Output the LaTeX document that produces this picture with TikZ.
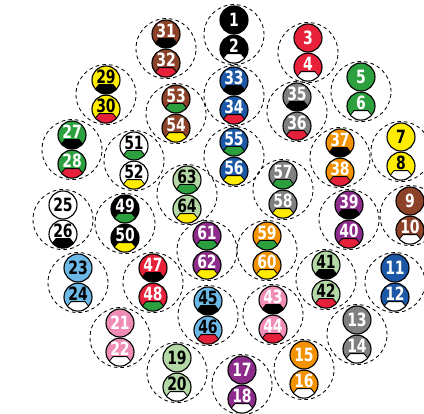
\documentclass[tikz,border=0pt]{standalone}
\usepackage{fontspec}
\usepackage{tikz}
\usetikzlibrary{calc,positioning,backgrounds}
\newfontfamily\numfont[FakeStretch=0.85]{DejaVu Sans Condensed}
\definecolor{cblack}{RGB}{0,0,0}
\definecolor{cred}{RGB}{232,33,58}
\definecolor{cgreen}{RGB}{44,160,62}
\definecolor{cyellow}{RGB}{255,236,0}
\definecolor{cbrown}{RGB}{139,66,40}
\definecolor{cblue}{RGB}{28,88,166}
\definecolor{cgrey}{RGB}{128,128,128}
\definecolor{corange}{RGB}{243,146,0}
\definecolor{cpurple}{RGB}{142,44,140}
\definecolor{clgreen}{RGB}{181,217,166}
\definecolor{cpink}{RGB}{239,141,183}
\definecolor{clblue}{RGB}{108,184,230}
\definecolor{cwhite}{RGB}{255,255,255}

\begin{document}
\begin{tikzpicture}[x=0.025cm, y=-0.025cm, node distance=0pt,
  ball/.style={draw, circle, line width=0.8pt, fill=#1, minimum size=0.7cm, inner sep=0pt,
    font=\numfont\bfseries\fontsize{13}{13}\selectfont},
  cap/.style={text height=7.5pt, text depth=2.5pt, path picture={\draw[fill=#1, line width=0.6pt]
    ([shift={(-7,4.5)}]path picture bounding box.center) -- ++(14,0) -- ++(8,10)
    -- ++(0,8) -- ++(-30,0) -- ++(0,-8) -- cycle;}},
  ring/.style={draw, circle, dash pattern=on 2.6pt off 2.2pt, line width=0.6pt, minimum size=1.5cm}]
  \useasboundingbox (0,0) rectangle (424,414);

  % Outer ring
  \node[ball=cblack, text=white] (b1) at (234,20) {1};
  \node[ball=cblack, text=white, cap=white, below=of b1] (b2) {2};
  \node[ball=cred, text=white] (b3) at (308,38) {3};
  \node[ball=cred, text=white, cap=white, below=of b3] (b4) {4};
  \node[ball=cgreen, text=white] (b5) at (361,77) {5};
  \node[ball=cgreen, text=white, cap=white, below=of b5] (b6) {6};
  \node[ball=cyellow] (b7) at (401,137) {7};
  \node[ball=cyellow, cap=white, below=of b7] (b8) {8};
  \node[ball=cbrown, text=white] (b9) at (410,201) {9};
  \node[ball=cbrown, text=white, cap=white, below=of b9] (b10) {10};
  \node[ball=cblue, text=white] (b11) at (395,268) {11};
  \node[ball=cblue, text=white, cap=white, below=of b11] (b12) {12};
  \node[ball=cgrey, text=white] (b13) at (357,320) {13};
  \node[ball=cgrey, text=white, cap=white, below=of b13] (b14) {14};
  \node[ball=corange, text=white] (b15) at (304,355) {15};
  \node[ball=corange, text=white, cap=white, below=of b15] (b16) {16};
  \node[ball=cpurple, text=white] (b17) at (242,370) {17};
  \node[ball=cpurple, text=white, cap=white, below=of b17] (b18) {18};
  \node[ball=clgreen] (b19) at (177,358) {19};
  \node[ball=clgreen, cap=white, below=of b19] (b20) {20};
  \node[ball=cpink, text=white] (b21) at (120,323) {21};
  \node[ball=cpink, text=white, cap=white, below=of b21] (b22) {22};
  \node[ball=clblue] (b23) at (78,268) {23};
  \node[ball=clblue, cap=white, below=of b23] (b24) {24};
  \node[ball=cwhite] (b25) at (63,205) {25};
  \node[ball=cwhite, cap=black, below=of b25] (b26) {26};
  \node[ball=cgreen, text=white, cap=black] (b27) at (72,135) {27};
  \node[ball=cgreen, text=white, cap=cred, below=of b27] (b28) {28};
  \node[ball=cyellow, cap=black] (b29) at (106,80) {29};
  \node[ball=cyellow, cap=cred, below=of b29] (b30) {30};
  \node[ball=cbrown, text=white, cap=black] (b31) at (166,34) {31};
  \node[ball=cbrown, text=white, cap=cred, below=of b31] (b32) {32};

  % Middle ring
  \node[ball=cblue, text=white, cap=black] (b33) at (234,81) {33};
  \node[ball=cblue, text=white, cap=cred, below=of b33] (b34) {34};
  \node[ball=cgrey, text=white, cap=black] (b35) at (297,97) {35};
  \node[ball=cgrey, text=white, cap=cred, below=of b35] (b36) {36};
  \node[ball=corange, text=white, cap=black] (b37) at (340,143) {37};
  \node[ball=corange, text=white, cap=cred, below=of b37] (b38) {38};
  \node[ball=cpurple, text=white, cap=black] (b39) at (349,205) {39};
  \node[ball=cpurple, text=white, cap=cred, below=of b39] (b40) {40};
  \node[ball=clgreen, cap=black] (b41) at (326,265) {41};
  \node[ball=clgreen, cap=cred, below=of b41] (b42) {42};
  \node[ball=cpink, text=white, cap=black] (b43) at (273,300) {43};
  \node[ball=cpink, text=white, cap=cred, below=of b43] (b44) {44};
  \node[ball=clblue, cap=black] (b45) at (208,301) {45};
  \node[ball=clblue, cap=cred, below=of b45] (b46) {46};
  \node[ball=cred, text=white, cap=black] (b47) at (153,268) {47};
  \node[ball=cred, text=white, cap=cgreen, below=of b47] (b48) {48};
  \node[ball=cblack, text=white, cap=cgreen] (b49) at (125,209) {49};
  \node[ball=cblack, text=white, cap=cyellow, below=of b49] (b50) {50};
  \node[ball=cwhite, cap=cgreen] (b51) at (134,146) {51};
  \node[ball=cwhite, cap=cyellow, below=of b51] (b52) {52};
  \node[ball=cbrown, text=white, cap=cgreen] (b53) at (176,99) {53};
  \node[ball=cbrown, text=white, cap=cyellow, below=of b53] (b54) {54};

  % Inner ring
  \node[ball=cblue, text=white, cap=cgreen] (b55) at (234,142) {55};
  \node[ball=cblue, text=white, cap=cyellow, below=of b55] (b56) {56};
  \node[ball=cgrey, text=white, cap=cgreen] (b57) at (283,175) {57};
  \node[ball=cgrey, text=white, cap=cyellow, below=of b57] (b58) {58};
  \node[ball=corange, text=white, cap=cgreen] (b59) at (267,236) {59};
  \node[ball=corange, text=white, cap=cyellow, below=of b59] (b60) {60};
  \node[ball=cpurple, text=white, cap=cgreen] (b61) at (207,236) {61};
  \node[ball=cpurple, text=white, cap=cyellow, below=of b61] (b62) {62};
  \node[ball=clgreen, cap=cgreen] (b63) at (187,180) {63};
  \node[ball=clgreen, cap=cyellow, below=of b63] (b64) {64};

  % Dashed rings round each pair
  \begin{scope}[on background layer]
    \foreach \n [evaluate=\n as \m using int(\n+1)] in {1,3,...,63}
      \node[ring] (r\n) at ($(b\n)!0.5!(b\m)$) {};
  \end{scope}
\end{tikzpicture}
\end{document}
